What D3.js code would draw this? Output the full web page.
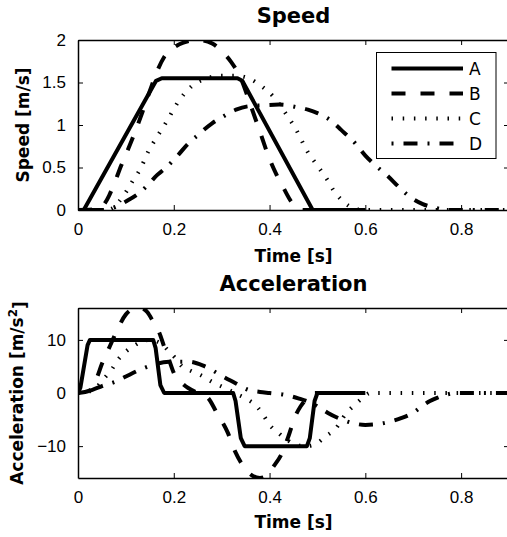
<!DOCTYPE html>
<html>
<head>
<meta charset="utf-8">
<script src="https://cdn.jsdelivr.net/npm/d3@7"></script>
<style>
	body { margin: 0; background: #fff; }
	svg { display: block; font-family: "DejaVu Sans", sans-serif; }
</style>
</head>
<body>
<svg id="chart" width="507" height="537"></svg>
<script>
// x axis ticks (time, s)
var timeTicks = [0, 0.2, 0.4, 0.6, 0.8];
var speedTicks = [0, 0.5, 1, 1.5, 2];
var accelTicks = [-10, 0, 10];
var seriesNames = ["A", "B", "C", "D"];

// speed [m/s]
var speedA_t = [0, 0.012, 0.163, 0.175, 0.333, 0.343, 0.49, 0.6];
var speedA_v = [0, 0, 1.52, 1.55, 1.55, 1.52, 0, 0];
var speedB_t = [0, 0.04, 0.055, 0.065, 0.075, 0.09, 0.105, 0.12, 0.135, 0.15, 0.165, 0.18, 0.2, 0.22, 0.25, 0.28, 0.3, 0.32, 0.34, 0.36, 0.38, 0.4, 0.415, 0.43, 0.445, 0.458, 0.47, 0.6];
var speedB_v = [0, 0.01, 0.07, 0.17, 0.3, 0.52, 0.72, 0.93, 1.16, 1.4, 1.63, 1.8, 1.91, 1.97, 2.0, 1.96, 1.87, 1.74, 1.55, 1.24, 0.92, 0.6, 0.41, 0.25, 0.1, 0.02, 0, 0];
var speedC_t = [0, 0.06, 0.075, 0.083, 0.1, 0.115, 0.13, 0.146, 0.165, 0.185, 0.209, 0.238, 0.27, 0.3, 0.33, 0.36, 0.38, 0.41, 0.432, 0.455, 0.48, 0.5, 0.52, 0.535, 0.55, 0.565, 0.58, 0.6, 0.9];
var speedC_v = [0, 0, 0.03, 0.08, 0.21, 0.35, 0.48, 0.68, 0.86, 1.04, 1.27, 1.46, 1.55, 1.58, 1.58, 1.54, 1.47, 1.32, 1.15, 0.95, 0.68, 0.52, 0.36, 0.22, 0.12, 0.05, 0.01, 0, 0];
var speedD_t = [0, 0.05, 0.08, 0.1, 0.13, 0.15, 0.165, 0.18, 0.205, 0.23, 0.25, 0.28, 0.3, 0.33, 0.355, 0.38, 0.42, 0.457, 0.48, 0.5, 0.526, 0.55, 0.578, 0.6, 0.62, 0.645, 0.672, 0.697, 0.72, 0.75, 0.77, 0.9];
var speedD_v = [0, 0, 0.04, 0.1, 0.21, 0.32, 0.41, 0.48, 0.62, 0.78, 0.88, 1.02, 1.09, 1.18, 1.22, 1.23, 1.24, 1.21, 1.18, 1.14, 1.06, 0.94, 0.79, 0.64, 0.53, 0.41, 0.26, 0.14, 0.07, 0.02, 0, 0];

// acceleration [m/s^2]
var accelA_t = [0, 0.005, 0.02, 0.025, 0.157, 0.162, 0.172, 0.18, 0.324, 0.329, 0.34, 0.348, 0.478, 0.484, 0.494, 0.5, 0.6];
var accelA_v = [0, 1, 9, 10, 10, 8.5, 1.5, 0, 0, -1.5, -8.5, -10, -10, -8.5, -1.5, 0, 0];
var accelB_t = [0, 0.025, 0.04, 0.05, 0.065, 0.08, 0.1, 0.115, 0.13, 0.145, 0.157, 0.17, 0.18, 0.19, 0.2, 0.217, 0.25, 0.27, 0.29, 0.313, 0.328, 0.345, 0.36, 0.38, 0.395, 0.407, 0.426, 0.44, 0.453, 0.465, 0.478, 0.49, 0.6];
var accelB_v = [0, 0.5, 3, 5.5, 8.5, 11.5, 14.8, 15.8, 16, 15.2, 13.4, 11.3, 8.7, 6.3, 3.8, 1.9, 0, -0.8, -3.75, -7.5, -11, -13.75, -15.3, -16, -15.5, -14, -11.3, -8, -4.5, -2.5, -1, 0, 0];
var accelC_t = [0, 0.03, 0.056, 0.07, 0.083, 0.1, 0.119, 0.135, 0.15, 0.165, 0.178, 0.19, 0.203, 0.217, 0.235, 0.255, 0.28, 0.31, 0.334, 0.355, 0.373, 0.386, 0.4, 0.418, 0.436, 0.455, 0.475, 0.49, 0.5, 0.518, 0.536, 0.561, 0.578, 0.595, 0.61, 0.9];
var accelC_v = [0, 0.5, 2.9, 4.4, 6.2, 7.8, 9, 9.8, 10, 9.7, 9, 7.8, 6.6, 5, 4.2, 3.4, 2.1, 0.8, -0.3, -1.25, -2.5, -4, -6, -7.5, -8.8, -9.7, -10, -9.8, -9.4, -8.1, -6.9, -3.75, -2.2, -0.9, 0, 0];
var accelD_t = [0, 0.03, 0.05, 0.08, 0.1, 0.13, 0.157, 0.19, 0.23, 0.26, 0.28, 0.303, 0.328, 0.355, 0.38, 0.4, 0.43, 0.46, 0.49, 0.505, 0.522, 0.551, 0.575, 0.6, 0.63, 0.655, 0.676, 0.7, 0.718, 0.735, 0.75, 0.77, 0.79, 0.9];
var accelD_v = [0, 0.6, 1.3, 2.2, 3.1, 4.4, 5.3, 5.9, 5.9, 5.2, 4.3, 3.1, 1.9, 0.6, 0.2, 0, -0.3, -1, -2, -2.8, -3.75, -5, -5.7, -6, -5.8, -5.3, -4.7, -3.7, -2.5, -1.5, -0.9, -0.3, 0, 0];

// line styles for A (solid), B (dashed), C (dotted), D (dash-dot)
var lineStyles = {
	A: { width: 4, dash: null, curve: d3.curveLinear },
	B: { width: 4, dash: "14,15", curve: d3.curveMonotoneX },
	C: { width: 4, dash: "1.5,9.7", curve: d3.curveMonotoneX },
	D: { width: 4, dash: "2,10,14,10", curve: d3.curveMonotoneX }
};

function zipSeries(ts, vs) {
	return ts.map(function(t, i) { return { t: t, v: vs[i] }; });
}

class MotionGraph {
	constructor(svg, box, yDomain, yTicks, id) {
		this.svg = svg;
		this.box = box;
		this.id = id;
		this.xScale = d3.scaleLinear().domain([0, 0.9]).range([box.left, box.right]);
		this.yScale = d3.scaleLinear().domain(yDomain).range([box.bottom, box.top]);
		this.yTicks = yTicks;

		this.svg.append("clipPath").attr("id", "clip-" + id)
			.append("rect")
			.attr("x", box.left).attr("y", box.top)
			.attr("width", box.right - box.left).attr("height", box.bottom - box.top);
		this.container = this.svg.append("g").attr("class", "graph-" + id);
	}

	drawAxis() {
		var b = this.box;
		var tick = 5;
		var g = this.container;
		var plain = function(d) { return d3.format("")(d).replace("-", "\u2212"); };

		g.append("g")
			.attr("transform", "translate(0," + b.bottom + ")")
			.call(d3.axisBottom(this.xScale).tickValues(timeTicks).tickSizeInner(-tick).tickSizeOuter(0).tickPadding(13).tickFormat(plain));
		g.append("g")
			.attr("transform", "translate(0," + b.top + ")")
			.call(d3.axisTop(this.xScale).tickValues(timeTicks).tickSizeInner(-tick).tickSizeOuter(0).tickFormat(""));
		g.append("g")
			.attr("transform", "translate(" + b.left + ",0)")
			.call(d3.axisLeft(this.yScale).tickValues(this.yTicks).tickSizeInner(-tick).tickSizeOuter(0).tickPadding(12).tickFormat(plain));
		g.append("g")
			.attr("transform", "translate(" + b.right + ",0)")
			.call(d3.axisRight(this.yScale).tickValues(this.yTicks).tickSizeInner(-tick).tickSizeOuter(0).tickFormat(""));

		g.selectAll(".domain").attr("stroke", "#000").attr("stroke-width", 1.5);
		g.selectAll(".tick line").attr("stroke", "#000").attr("stroke-width", 1);
		g.selectAll(".tick text").attr("fill", "#000").attr("font-size", 17);
	}

	drawLines(seriesList) {
		var xs = this.xScale, ys = this.yScale;
		var lines = this.container.append("g").attr("clip-path", "url(#clip-" + this.id + ")");
		seriesList.forEach(function(s) {
			var st = lineStyles[s.name];
			lines.append("path")
				.datum(s.data)
				.attr("fill", "none")
				.attr("stroke", "#000")
				.attr("stroke-width", st.width)
				.attr("stroke-dasharray", st.dash)
				.attr("stroke-linejoin", "round")
				.attr("d", d3.line().curve(st.curve).x(function(d) { return xs(d.t); }).y(function(d) { return ys(d.v); }));
		});
	}

	drawTexts(title, titleY, xLabelY, yLabelX, yLabel) {
		var b = this.box;
		var cx = (b.left + b.right) / 2;
		this.container.append("text")
			.attr("x", cx).attr("y", titleY)
			.attr("text-anchor", "middle").attr("font-size", 21).attr("font-weight", "bold")
			.text(title);
		this.container.append("text")
			.attr("x", cx).attr("y", xLabelY)
			.attr("text-anchor", "middle").attr("font-size", 17).attr("font-weight", "bold")
			.text("Time [s]");
		var yl = this.container.append("text")
			.attr("transform", "translate(" + yLabelX + "," + ((b.top + b.bottom) / 2) + ") rotate(-90)")
			.attr("text-anchor", "middle").attr("font-size", 17).attr("font-weight", "bold");
		yLabel(yl);
	}
}

var svg = d3.select("#chart");
svg.append("rect").attr("width", 507).attr("height", 537).attr("fill", "#fff");

// speed graph
var speedGraph = new MotionGraph(svg, { left: 78, right: 509, top: 40, bottom: 210 }, [0, 2], speedTicks, "speed");
speedGraph.drawLines([
	{ name: "A", data: zipSeries(speedA_t, speedA_v) },
	{ name: "B", data: zipSeries(speedB_t, speedB_v) },
	{ name: "C", data: zipSeries(speedC_t, speedC_v) },
	{ name: "D", data: zipSeries(speedD_t, speedD_v) }
]);
speedGraph.drawAxis();
speedGraph.drawTexts("Speed", 23, 262, 29, function(t) { t.text("Speed [m/s]"); });

// acceleration graph
var accelGraph = new MotionGraph(svg, { left: 78, right: 509, top: 308, bottom: 478 }, [-16, 16], accelTicks, "accel");
accelGraph.drawLines([
	{ name: "A", data: zipSeries(accelA_t, accelA_v) },
	{ name: "B", data: zipSeries(accelB_t, accelB_v) },
	{ name: "C", data: zipSeries(accelC_t, accelC_v) },
	{ name: "D", data: zipSeries(accelD_t, accelD_v) }
]);
accelGraph.drawAxis();
accelGraph.drawTexts("Acceleration", 291, 528, 23, function(t) {
	t.append("tspan").text("Acceleration [m/s");
	t.append("tspan").attr("dy", "-0.5em").attr("font-size", 12).text("2");
	t.append("tspan").attr("dy", "0.5em").text("]");
});

// legend
var legend = svg.append("g").attr("class", "legend");
legend.append("rect")
	.attr("x", 376.5).attr("y", 52.5).attr("width", 119.5).attr("height", 106)
	.attr("fill", "#fff").attr("stroke", "#000").attr("stroke-width", 1);
seriesNames.forEach(function(name, i) {
	var y = 68.5 + i * 25;
	var st = lineStyles[name];
	legend.append("line")
		.attr("x1", 391.5).attr("x2", 463).attr("y1", y).attr("y2", y)
		.attr("stroke", "#000").attr("stroke-width", st.width)
		.attr("stroke-dasharray", st.dash);
	legend.append("text")
		.attr("x", 469).attr("y", y + 6)
		.attr("font-size", 17)
		.text(name);
});
</script>
</body>
</html>
